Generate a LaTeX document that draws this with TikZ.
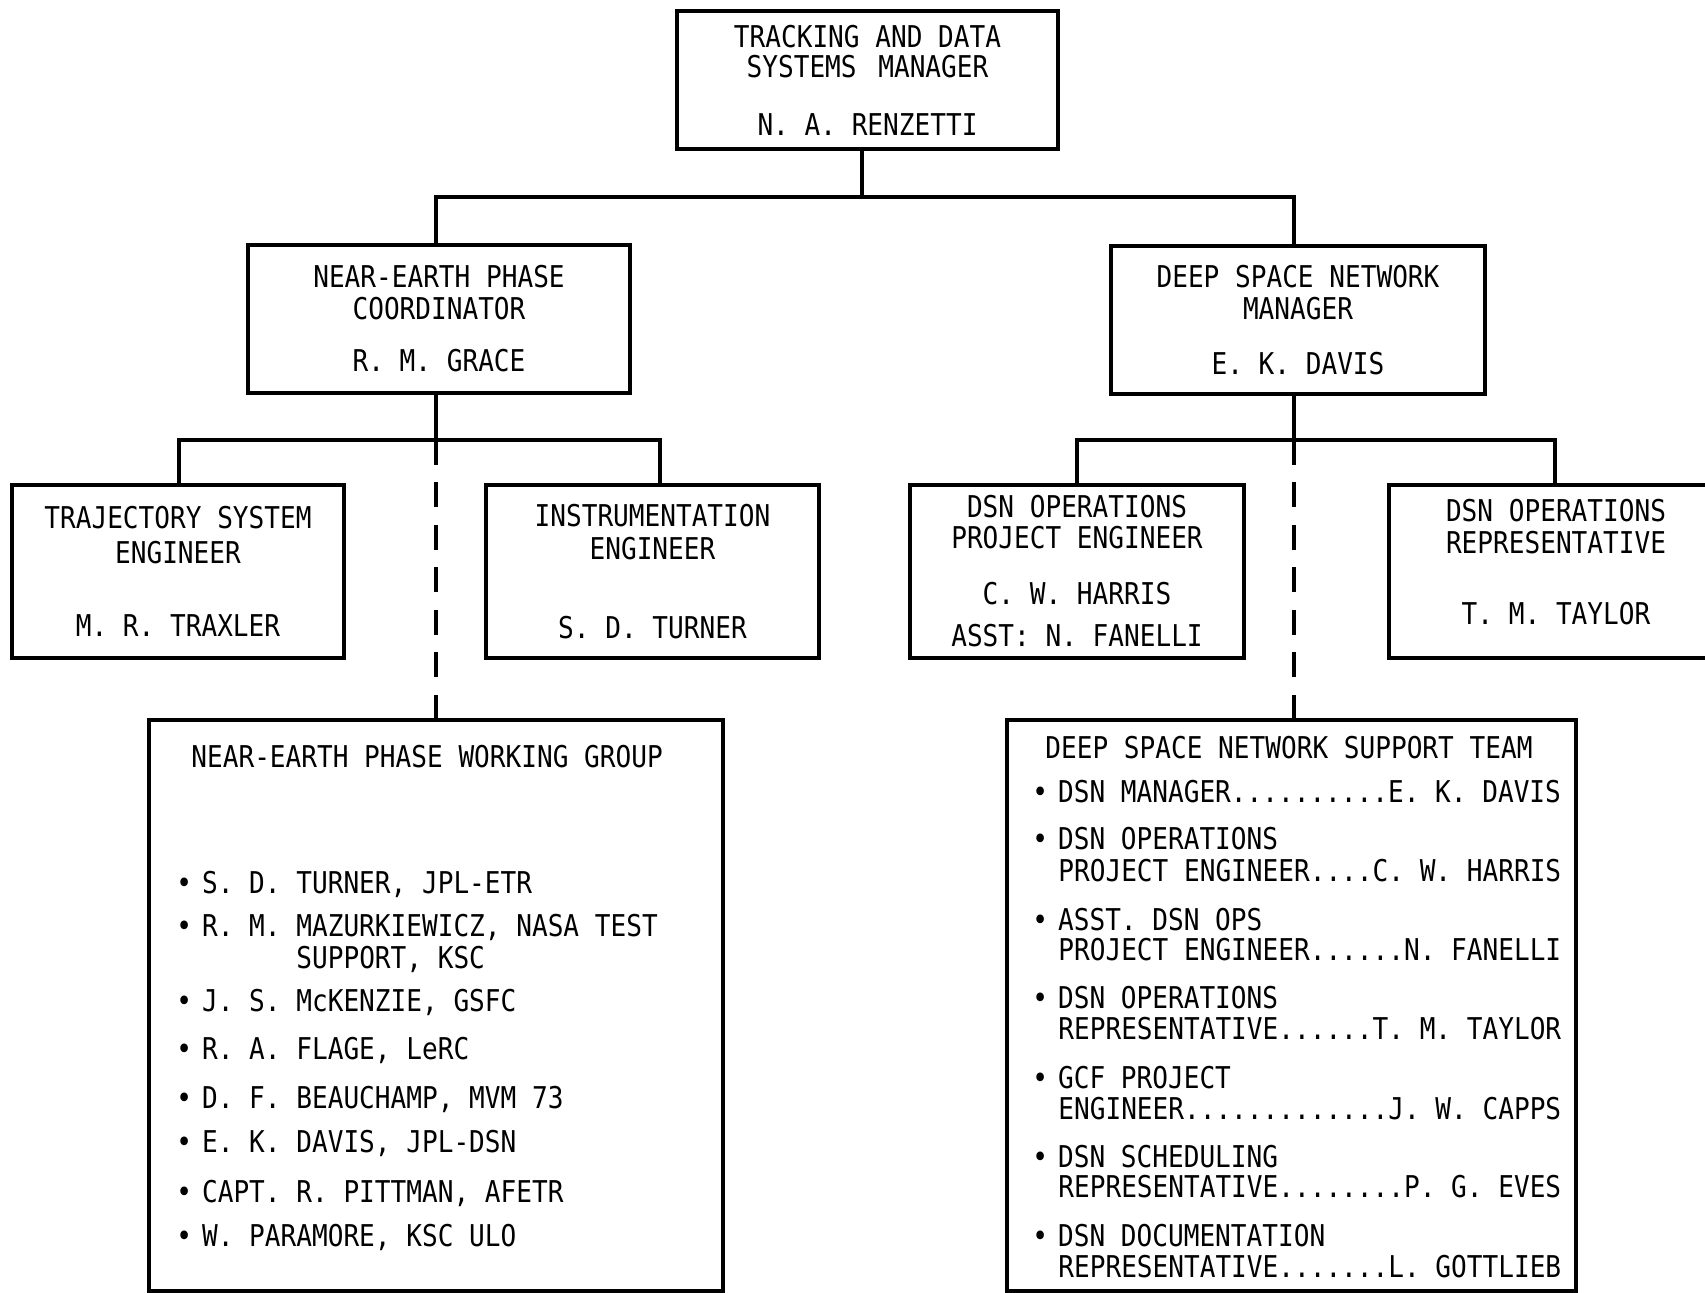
\documentclass[tikz,border=0pt]{standalone}
\usepackage{fontspec}
\setmainfont{DejaVu Sans Mono}[FakeStretch=0.87]
\newcommand\listbul{•\hspace{5pt}}
\begin{document}
\begin{tikzpicture}[x=0.5pt,y=-0.5pt,
  box/.style={draw, line width=1.8pt, rectangle, inner sep=0pt, align=center,
    font=\fontsize{15}{15}\selectfont},
  conn/.style={line width=1.6pt},
  dashconn/.style={line width=1.6pt, dash pattern=on 12.5pt off 8.75pt},
  txt/.style={anchor=base west, inner sep=0pt, font=\fontsize{15}{15}\selectfont}]
\useasboundingbox (0,0) rectangle (1705,1293);
\clip (0,0) rectangle (1705,1293);

% boxes
\node[box, minimum width=190.5pt, minimum height=69pt] (top) at (867.5,80)
  {TRACKING AND DATA\\SYSTEMS\hspace{3pt} MANAGER\\[14pt]N. A. RENZETTI};
\node[box, minimum width=191pt, minimum height=74pt] (nepc) at (439,319)
  {NEAR-EARTH PHASE\\[1pt]COORDINATOR\\[11pt]R. M. GRACE};
\node[box, minimum width=187pt, minimum height=74pt] (dsnm) at (1298,320)
  {DEEP SPACE NETWORK\\[1pt]MANAGER\\[12.5pt]E. K. DAVIS};
\node[box, minimum width=166pt, minimum height=86.5pt] (traj) at (178,571.5)
  {TRAJECTORY SYSTEM\\[2.5pt]ENGINEER\\[21.5pt]M. R. TRAXLER};
\node[box, minimum width=166.5pt, minimum height=86.5pt] (instr) at (652.5,571.5)
  {INSTRUMENTATION\\[1.5pt]ENGINEER\\[24.5pt]S. D. TURNER};
\node[box, minimum width=167pt, minimum height=86.5pt] (dsnpe) at (1077,571.5)
  {DSN OPERATIONS\\[0.5pt]PROJECT ENGINEER\\[13pt]C. W. HARRIS\\[6pt]ASST: N. FANELLI};
\node[box, minimum width=167pt, minimum height=86.5pt] (dsnrep) at (1556,571.5)
  {DSN OPERATIONS\\[1pt]REPRESENTATIVE\\[20.5pt]T. M. TAYLOR\\[-5pt]\mbox{}};
\node[box, minimum width=287pt, minimum height=285.5pt] (wg) at (436,1005.5) {};
\node[box, minimum width=284.5pt, minimum height=285.5pt] (dsnt) at (1291.5,1005.5) {};

% connectors
\coordinate (jt) at (862,197);
\coordinate (jl) at (436,197);
\coordinate (jr) at (1294,197);
\draw[conn] (jt |- top.south) -- (jt);
\draw[conn] (jl |- nepc.north) -- (jl) -- (jr) -- (jr |- dsnm.north);

\coordinate (kl) at (436,440);
\coordinate (ka) at (179,440);
\coordinate (kb) at (660,440);
\draw[conn] (kl |- nepc.south) -- (kl);
\draw[conn] (ka |- traj.north) -- (ka) -- (kb) -- (kb |- instr.north);
\draw[dashconn] (kl) -- (kl |- wg.north);

\coordinate (kr) at (1294,440);
\coordinate (kc) at (1077,440);
\coordinate (kd) at (1555,440);
\draw[conn] (kr |- dsnm.south) -- (kr);
\draw[conn] (kc |- dsnpe.north) -- (kc) -- (kd) -- (kd |- dsnrep.north);
\draw[dashconn] (kr) -- (kr |- dsnt.north);

% working group list
\node[txt] (wgt) at (191,768) {NEAR-EARTH PHASE WORKING GROUP};
\foreach \n/\x/\y/\t in {
  w1/176/894/{\listbul S. D. TURNER, JPL-ETR},
  w2/176/937/{\listbul R. M. MAZURKIEWICZ, NASA TEST},
  w3/296/969/{SUPPORT, KSC},
  w4/176/1012/{\listbul J. S. McKENZIE, GSFC},
  w5/176/1060/{\listbul R. A. FLAGE, LeRC},
  w6/176/1109/{\listbul D. F. BEAUCHAMP, MVM 73},
  w7/176/1153/{\listbul E. K. DAVIS, JPL-DSN},
  w8/176/1203/{\listbul CAPT. R. PITTMAN, AFETR},
  w9/176/1247/{\listbul W. PARAMORE, KSC ULO}}
  \node[txt] (\n) at (\x,\y) {\t};

% DSN support team list
\node[txt] (dst) at (1045,759) {DEEP SPACE NETWORK SUPPORT TEAM};
\foreach \n/\x/\y/\t in {
  d1/1032/803/{\listbul DSN MANAGER..........E. K. DAVIS},
  d2/1032/850/{\listbul DSN OPERATIONS},
  d3/1058/882/{PROJECT ENGINEER....C. W. HARRIS},
  d4/1032/931/{\listbul ASST. DSN OPS},
  d5/1058/961/{PROJECT ENGINEER......N. FANELLI},
  d6/1032/1009/{\listbul DSN OPERATIONS},
  d7/1058/1040/{REPRESENTATIVE......T. M. TAYLOR},
  d8/1032/1089/{\listbul GCF PROJECT},
  d9/1058/1120/{ENGINEER.............J. W. CAPPS},
  d10/1032/1168/{\listbul DSN SCHEDULING},
  d11/1058/1198/{REPRESENTATIVE........P. G. EVES},
  d12/1032/1247/{\listbul DSN DOCUMENTATION},
  d13/1058/1278/{REPRESENTATIVE.......L. GOTTLIEB}}
  \node[txt] (\n) at (\x,\y) {\t};
\end{tikzpicture}
\end{document}
